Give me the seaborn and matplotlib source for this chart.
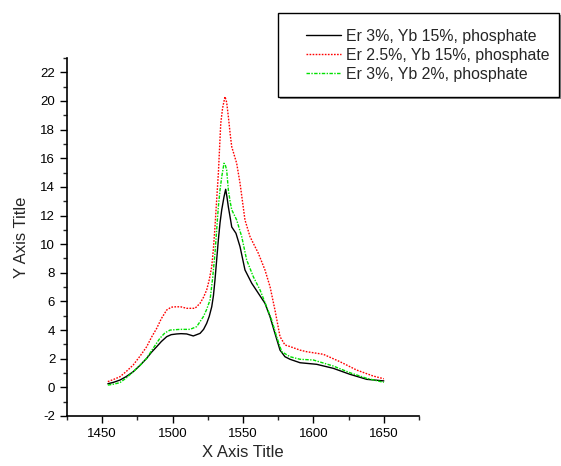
import matplotlib
matplotlib.use("Agg")
import matplotlib.pyplot as plt
import seaborn as sns
import pandas as pd
from matplotlib.ticker import MultipleLocator
from matplotlib.patches import Rectangle

series_labels = ["Er 3%, Yb 15%, phosphate",
                 "Er 2.5%, Yb 15%, phosphate",
                 "Er 3%, Yb 2%, phosphate"]

x_black = [1454, 1458, 1462.6, 1467, 1472, 1477, 1481.6, 1485, 1488.7, 1492, 1495.8, 1499,
           1502.9, 1506, 1510, 1514.7, 1519.5, 1522, 1524.2, 1526, 1527.8, 1529, 1530.1,
           1531.3, 1532.5, 1533.7, 1534.9, 1536.5, 1537.7, 1538.6, 1539.6, 1541, 1542,
           1545, 1547.9, 1551.4, 1556.2, 1560.9, 1565.6, 1569.2, 1572.7, 1576.3, 1579.8,
           1583.4, 1590.5, 1602.3, 1614.1, 1626, 1637.9, 1650]
y_black = [0.25, 0.35, 0.51, 0.75, 1.09, 1.55, 2.03, 2.45, 2.84, 3.2, 3.54, 3.68,
           3.73, 3.75, 3.73, 3.59, 3.77, 4.05, 4.47, 4.95, 5.63, 6.4, 7.5,
           8.9, 10.3, 11.5, 12.4, 13.3, 13.83, 13.3, 12.6, 11.8, 11.2,
           10.76, 9.82, 8.2, 7.27, 6.57, 5.87, 4.93, 3.77, 2.6, 2.14,
           1.96, 1.72, 1.61, 1.33, 0.91, 0.56, 0.45]

x_red = [1454, 1458, 1462.6, 1467, 1472, 1477, 1481.6, 1485, 1488.7, 1492, 1495.8, 1499,
         1502.9, 1506, 1510, 1515.9, 1519.5, 1522, 1524.2, 1526, 1527.8, 1529, 1530.1,
         1531.3, 1532.5, 1533.4, 1534.2, 1535.5, 1537.2, 1538.4, 1539.6, 1541, 1542,
         1545.5, 1547.9, 1551.4, 1555, 1560.9, 1565.6, 1569.2, 1572.7, 1576.3, 1579.8,
         1583.4, 1590.5, 1595.2, 1607, 1618.9, 1630.7, 1642.5, 1650]
y_red = [0.40, 0.55, 0.74, 1.1, 1.56, 2.2, 2.84, 3.5, 4.12, 4.8, 5.4, 5.6,
         5.63, 5.62, 5.52, 5.52, 5.87, 6.3, 6.8, 7.5, 8.43, 9.7, 11.22,
         13.1, 14.95, 16.8, 18.44, 19.5, 20.3, 19.9, 18.9, 17.6, 16.8,
         15.65, 14.25, 11.69, 10.52, 9.36, 8.2, 7.03, 5.4, 3.54, 2.96,
         2.85, 2.6, 2.49, 2.31, 1.79, 1.21, 0.79, 0.6]

x_green = [1454, 1458, 1462.6, 1467, 1472, 1477, 1481.6, 1486, 1491, 1494.5, 1498.2,
           1505.3, 1512.4, 1517.1, 1521.8, 1524, 1526.6, 1528.4, 1530.1, 1531.3, 1532.5,
           1533.7, 1534.9, 1536.5, 1537.5, 1538.4, 1539.6, 1541, 1542, 1545.5, 1549.1,
           1552.6, 1557.3, 1562.1, 1566.8, 1570.4, 1573.9, 1577.5, 1583.4, 1590.5, 1600,
           1614.1, 1626, 1637.9, 1650]
y_green = [0.16, 0.22, 0.33, 0.65, 1.09, 1.55, 2.03, 2.7, 3.43, 3.8, 4.0,
           4.05, 4.05, 4.24, 4.93, 5.4, 6.1, 7.6, 9.36, 11.0, 12.62,
           13.8, 14.7, 15.65, 15.5, 15.18, 13.78, 12.9, 12.4, 11.69, 10.52,
           8.9, 7.73, 6.8, 5.63, 4.7, 3.54, 2.49, 2.14, 1.96, 1.91,
           1.49, 1.02, 0.63, 0.35]

sns.set_style("ticks")
plt.rcParams['font.family'] = ['Liberation Sans', 'DejaVu Sans']
plt.rcParams['axes.unicode_minus'] = False

fig = plt.figure(figsize=(5.61, 4.66), dpi=100)
ax = fig.add_axes([67/561, 1-416/466, (419-67)/561, (416-58)/466])

styles = [("black", "-"), ("#ff0000", (0, (1.2, 1.0))), ("#00e000", (0, (2.5, 1, 1, 1)))]
data = [(x_black, y_black), (x_red, y_red), (x_green, y_green)]
for (xs, ys), (c, ls), lab in zip(data, styles, series_labels):
    sns.lineplot(x=xs, y=ys, ax=ax, color=c, linestyle=ls, linewidth=1.0, label=lab,
                 sort=False, estimator=None)

ax.set_xlim(1425, 1675)
ax.set_ylim(-2, 23)
ax.xaxis.set_major_locator(MultipleLocator(50))
ax.xaxis.set_minor_locator(MultipleLocator(25))
ax.yaxis.set_major_locator(MultipleLocator(2))
ax.yaxis.set_minor_locator(MultipleLocator(1))
ax.set_xticks([1450, 1500, 1550, 1600, 1650])
ax.set_yticks(list(range(-2, 23, 2)))
ax.tick_params(which='major', direction='out', length=5, width=1, labelsize=9.5, colors='black')
ax.tick_params(which='minor', direction='out', length=3, width=1)
for s in ['top', 'right']:
    ax.spines[s].set_visible(False)
for s in ['left', 'bottom']:
    ax.spines[s].set_linewidth(1.2)
    ax.spines[s].set_color('black')
ax.set_xlabel("X Axis Title", fontsize=12, labelpad=4)
ax.set_ylabel("Y Axis Title", fontsize=12, labelpad=8)

handles, labs = ax.get_legend_handles_labels()
ax.get_legend().remove()
leg = fig.legend(handles, labs, loc='center left', bbox_to_anchor=(306/561, 1-55.5/466),
                 frameon=False, fontsize=11.4, handlelength=2.2, handletextpad=0.3,
                 labelspacing=0.25, borderpad=0, borderaxespad=0)

fig.patches.append(Rectangle((280/561, 1-99/466), 281/561, 84/466, transform=fig.transFigure,
                             facecolor='#888888', edgecolor='none', zorder=0))
fig.patches.append(Rectangle((278/561, 1-97/466), 281/561, 84/466, transform=fig.transFigure,
                             facecolor='white', edgecolor='black', linewidth=1.0, zorder=1))

fig.savefig("out.png", dpi=100)
